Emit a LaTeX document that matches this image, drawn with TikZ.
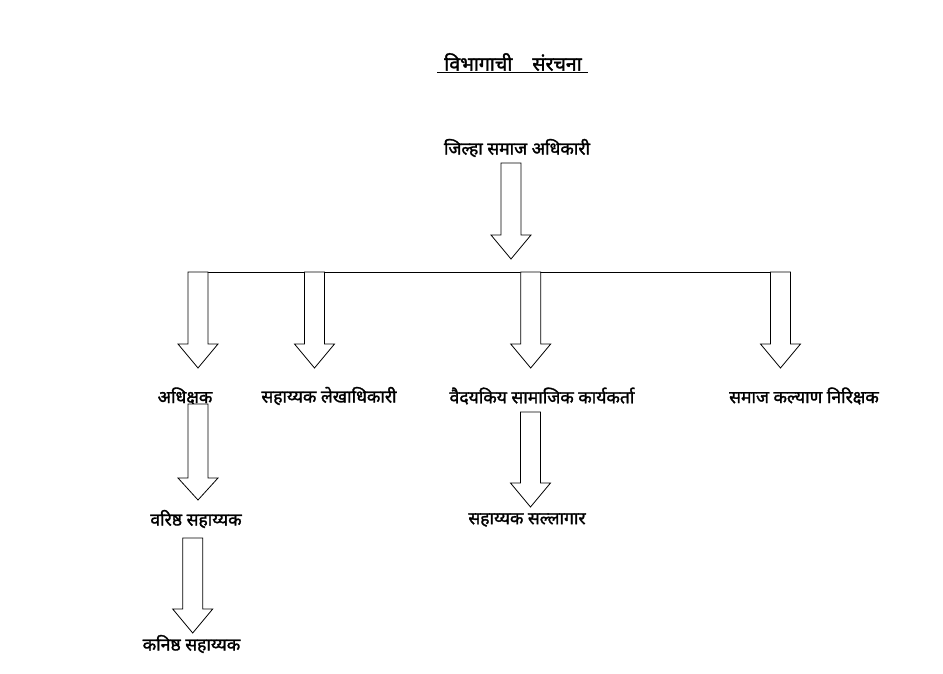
\documentclass[tikz,border=0pt]{standalone}
\usepackage{fontspec}
\newfontfamily\deva[Script=Devanagari,FakeBold=1.6]{Noto Sans}
\tikzset{
  lbl/.style={font=\deva\fontsize{17.5}{19}\selectfont, inner sep=0pt, anchor=center},
  barrowstyle/.style={draw=black, fill=white, line width=0.8pt, line join=miter},
}
% center x, top y, head-start y, tip y
\newcommand\myblockarrow[4]{%
  \draw[barrowstyle] (#1-10,#2) -- (#1+10,#2) -- (#1+10,#3) -- (#1+20,#3) -- (#1,#4) -- (#1-20,#3) -- (#1-10,#3) -- cycle;}
\begin{document}
\begin{tikzpicture}[x=1pt,y=-1pt]
\useasboundingbox (0,0) rectangle (943,674);
\fill[white] (0,0) rectangle (943,674);
% title
\node[lbl, font=\deva\fontsize{19.5}{21}\selectfont] (title) at (513,62) {विभागाची\hspace{20pt}संरचना};
\draw[line width=0.9pt] (437,72.5) -- (588,72.5);
% nodes
\node[lbl] (dso) at (517,148) {जिल्हा समाज अधिकारी};
\node[lbl] (adh) at (185,396) {अधिक्षक};
\node[lbl] (lekha) at (329,396) {सहाय्यक लेखाधिकारी};
\node[lbl] (vaid) at (542,396) {वैदयकिय सामाजिक कार्यकर्ता};
\node[lbl] (kalyan) at (804,396) {समाज कल्याण निरिक्षक};
\node[lbl] (var) at (196,519) {वरिष्ठ सहाय्यक};
\node[lbl] (salla) at (527,520) {सहाय्यक सल्लागार};
\node[lbl] (kan) at (191.5,644) {कनिष्ठ सहाय्यक};
% connectors
\myblockarrow{511}{163}{235}{259}
\coordinate (busL) at (188,272);
\coordinate (busR) at (790.5,272);
\draw[line width=0.8pt] (busL) -- (busR);
\myblockarrow{198}{272}{344}{368}
\myblockarrow{314.5}{272}{344}{368}
\myblockarrow{530.7}{272}{344}{368}
\myblockarrow{780.5}{272}{344}{368}
\myblockarrow{198}{404}{478}{500}
\myblockarrow{530.5}{412}{483}{507}
\myblockarrow{192.7}{538}{609}{633}
\end{tikzpicture}
\end{document}
